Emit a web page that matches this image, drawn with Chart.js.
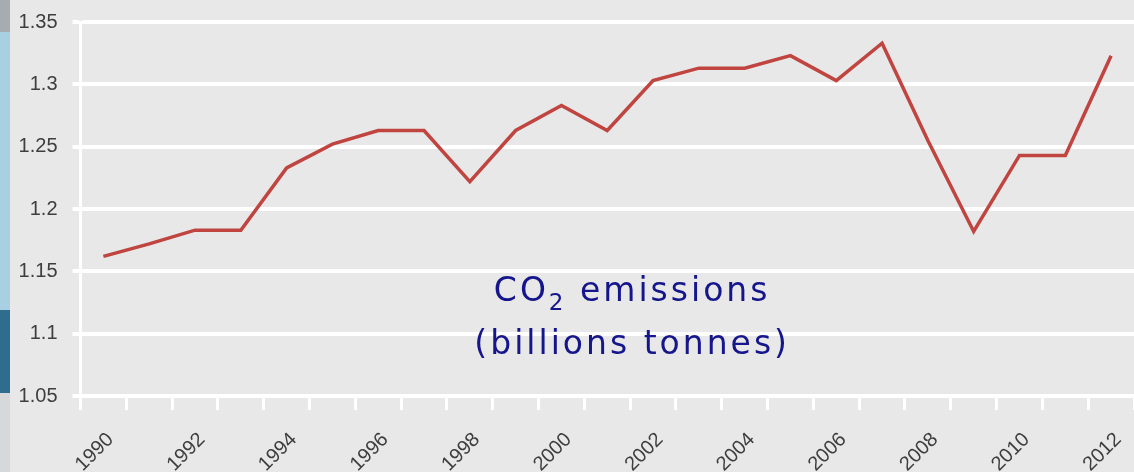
<!DOCTYPE html>
<html>
<head>
<meta charset="utf-8">
<script src="https://cdn.jsdelivr.net/npm/chart.js@4/dist/chart.umd.min.js"></script>
<style>
  html, body { margin: 0; padding: 0; background: #e8e8e8; }
  #wrap { width: 1134px; height: 472px; position: relative; }
</style>
</head>
<body>
<div id="wrap"><canvas id="c" width="1134" height="472"></canvas></div>
<script>
// ---- data ----
const years = ['1990','1991','1992','1993','1994','1995','1996','1997','1998','1999','2000','2001',
               '2002','2003','2004','2005','2006','2007','2008','2009','2010','2011','2012'];
const co2Emissions = [1.162, 1.172, 1.183, 1.183, 1.233, 1.252, 1.263, 1.263, 1.222, 1.263, 1.283, 1.263,
                      1.303, 1.313, 1.313, 1.323, 1.303, 1.333, 1.255, 1.182, 1.243, 1.243, 1.323];
const yTickValues = [1.05, 1.1, 1.15, 1.2, 1.25, 1.3, 1.35];
const yTickLabels = ['1.05', '1.1', '1.15', '1.2', '1.25', '1.3', '1.35'];
const annotationLines = ['CO|2| emissions', '(billions tonnes)'];

const bgPlugin = {
  id: 'bg',
  beforeDraw(chart) {
    const ctx = chart.ctx;
    ctx.save();
    ctx.fillStyle = '#e8e8e8';
    ctx.fillRect(0, 0, chart.width, chart.height);
    // decorative slide strip at far left
    ctx.fillStyle = '#a7acb0'; ctx.fillRect(0, 0, 10, 32);
    ctx.fillStyle = '#a9d0e2'; ctx.fillRect(0, 32, 10, 278);
    ctx.fillStyle = '#2f6d8e'; ctx.fillRect(0, 310, 10, 83);
    ctx.fillStyle = '#d6d8da'; ctx.fillRect(0, 393, 10, 79);
    ctx.restore();
  }
};

const annoPlugin = {
  id: 'anno',
  afterDatasetsDraw(chart) {
    const ctx = chart.ctx;
    const xs = chart.scales.x, ys = chart.scales.y;
    const cx = (xs.getPixelForValue(11) + xs.getPixelForValue(12)) / 2 + 2;
    const baselines = [ys.getPixelForValue(1.126), ys.getPixelForValue(1.084)];
    const fam = '"Comic Sans MS", "DejaVu Sans", sans-serif';
    ctx.save();
    ctx.fillStyle = '#15158c';
    ctx.textBaseline = 'alphabetic';
    ctx.textAlign = 'left';
    if ('letterSpacing' in ctx) ctx.letterSpacing = '3px';
    annotationLines.forEach((line, i) => {
      const parts = line.split('|').map((t, k) => ({ t, sub: k % 2 === 1 }));
      let total = 0;
      parts.forEach(p => {
        ctx.font = (p.sub ? '23px ' : '33px ') + fam;
        p.w = ctx.measureText(p.t).width;
        total += p.w;
      });
      let x = cx - total / 2;
      parts.forEach(p => {
        ctx.font = (p.sub ? '23px ' : '33px ') + fam;
        ctx.fillText(p.t, x, baselines[i] + (p.sub ? 9 : 0));
        x += p.w;
      });
    });
    ctx.restore();
  }
};

new Chart(document.getElementById('c'), {
  type: 'line',
  data: {
    labels: years,
    datasets: [{
      label: 'CO2 emissions',
      data: co2Emissions,
      borderColor: '#c0443f',
      borderWidth: 3.5,
      pointRadius: 0,
      tension: 0,
      fill: false
    }]
  },
  options: {
    responsive: false,
    animation: false,
    layout: { padding: { top: 22, right: 0, bottom: 0, left: 0 } },
    plugins: { legend: { display: false }, tooltip: { enabled: false } },
    scales: {
      x: {
        type: 'category',
        offset: true,
        grid: {
          offset: true,
          drawOnChartArea: false,
          drawTicks: true,
          tickLength: 14,
          tickWidth: 3,
          tickColor: '#ffffff',
          color: '#ffffff'
        },
        border: { display: false },
        ticks: {
          autoSkip: false,
          minRotation: 45,
          maxRotation: 45,
          padding: 18,
          labelOffset: 7,
          color: '#3e3e3e',
          font: { family: '"Liberation Sans", Arial, sans-serif', size: 20 },
          callback: function(v, i) { return i % 2 === 0 ? years[i] : ''; }
        },
        afterFit(scale) {
          scale.height = 76;
          scale.paddingLeft = 0; scale.paddingRight = 0;
          scale.paddingTop = 0; scale.paddingBottom = 0;
        }
      },
      y: {
        min: 1.05,
        max: 1.35,
        grid: {
          color: '#ffffff',
          lineWidth: 4,
          drawTicks: true,
          tickLength: 8,
          tickColor: '#ffffff',
          tickWidth: 4
        },
        border: { display: true, color: '#ffffff', width: 3 },
        afterBuildTicks(scale) { scale.ticks = yTickValues.map(v => ({ value: v })); },
        ticks: {
          padding: 15,
          color: '#3e3e3e',
          font: { family: '"Liberation Sans", Arial, sans-serif', size: 20 },
          callback: function(v) {
            const k = yTickValues.findIndex(t => Math.abs(t - v) < 1e-6);
            return k >= 0 ? yTickLabels[k] : '';
          }
        },
        afterFit(scale) {
          scale.width = 80.5;
          scale.paddingLeft = 0; scale.paddingRight = 0;
          scale.paddingTop = 0; scale.paddingBottom = 0;
        }
      }
    }
  },
  plugins: [bgPlugin, annoPlugin]
});
</script>
</body>
</html>
